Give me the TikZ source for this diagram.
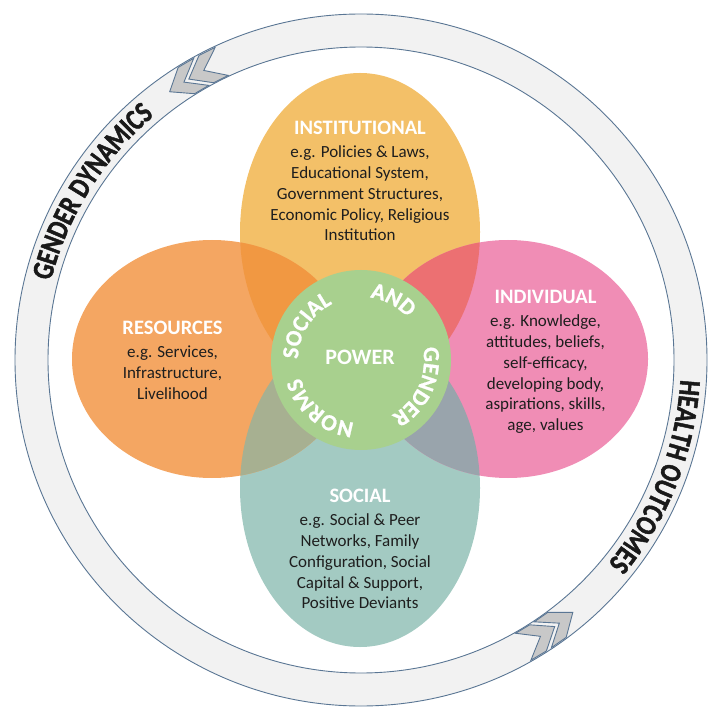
\documentclass[tikz,border=0pt]{standalone}
\usepackage{fontspec}
\setmainfont{Carlito}
\newfontfamily\ringfont{Carlito}[FakeStretch=0.8, FakeBold=1.5]
\newfontfamily\normsfont{Carlito}[LetterSpace=9, FakeBold=1]
\usetikzlibrary{positioning, calc, decorations.text}
\definecolor{instcol}{RGB}{243,192,104}
\definecolor{rescol}{RGB}{244,166,98}
\definecolor{indcol}{RGB}{240,141,181}
\definecolor{soccol}{RGB}{163,202,194}
\definecolor{tlcol}{RGB}{241,152,66}
\definecolor{trcol}{RGB}{236,112,114}
\definecolor{blcol}{RGB}{167,176,145}
\definecolor{brcol}{RGB}{153,164,172}
\definecolor{hubcol}{RGB}{168,208,142}
\definecolor{ringfill}{RGB}{242,242,242}
\definecolor{ringedge}{RGB}{90,118,148}
\definecolor{chevfill}{RGB}{200,200,200}
\definecolor{bodycol}{RGB}{30,30,30}
\newcommand\wordfmt{\normsfont\bfseries\fontsize{23}{27}\selectfont\color{white}}
\newcommand\ringfmt{\ringfont\bfseries\fontsize{30}{36}\selectfont\color{black!90}}

\begin{document}
\begin{tikzpicture}[x=1pt, y=1pt,
    heading/.style={font=\bfseries\fontsize{20.5}{24}\selectfont, text=white, inner sep=0pt},
    body/.style={font=\fontsize{17}{20.7}\selectfont, text=bodycol, align=center, inner sep=0pt},
    ringline/.style={draw=ringedge, line width=0.9pt},
    circtext/.style={decorate, decoration={text along path, text align=center, text={|\wordfmt|#1}}},
    ringtext/.style={decorate, decoration={text along path, text align=center, text={|\ringfmt|#1}}},
]
\useasboundingbox (0,0) rectangle (719,718);
\coordinate (c) at (361,358);

\fill[ringfill, even odd rule] (c) circle[radius=346] (c) circle[radius=313];
\draw[ringline] (c) circle[radius=346] (c) circle[radius=313];
\foreach \a in {115,119,-60.5,-56.5}
  \filldraw[fill=chevfill, ringline, shift={(c)}]
    (\a:345) -- ({\a+3}:345) -- ({\a+6.5}:329.5) -- ({\a+3}:314) -- (\a:314) -- ({\a+3.5}:329.5) -- cycle;

\fill[instcol] (360,486) ellipse[x radius=120, y radius=159];
\fill[soccol] (360,230) ellipse[x radius=120, y radius=159];
\fill[rescol] (212,359) ellipse[x radius=140, y radius=119];
\fill[indcol] (508,359) ellipse[x radius=140, y radius=119];
\begin{scope}
  \clip (360,486) ellipse[x radius=120, y radius=159];
  \fill[tlcol] (212,359) ellipse[x radius=140, y radius=119];
  \fill[trcol] (508,359) ellipse[x radius=140, y radius=119];
\end{scope}
\begin{scope}
  \clip (360,230) ellipse[x radius=120, y radius=159];
  \fill[blcol] (212,359) ellipse[x radius=140, y radius=119];
  \fill[brcol] (508,359) ellipse[x radius=140, y radius=119];
\end{scope}
\fill[hubcol] (c) circle[radius=90];

\node[heading] (inst) at (360,590) {INSTITUTIONAL};
\node[body, below=11pt of inst] (instbody) {e.g. Policies \& Laws,\\Educational System,\\Government Structures,\\Economic Policy, Religious\\Institution};
\node[heading] (res) at (172.5,390) {RESOURCES};
\node[body, below=11pt of res] (resbody) {e.g. Services,\\Infrastructure,\\Livelihood};
\node[heading] (ind) at (545.5,421) {INDIVIDUAL};
\node[body, below=11pt of ind] (indbody) {e.g. Knowledge,\\attitudes, beliefs,\\self-efficacy,\\developing body,\\aspirations, skills,\\age, values};
\node[heading] (soc) at (360,222) {SOCIAL};
\node[body, below=11pt of soc] (socbody) {e.g. Social \& Peer\\Networks, Family\\Configuration, Social\\Capital \& Support,\\Positive Deviants};
\node[font=\bfseries\fontsize{22}{26}\selectfont, text=white] (power) at (360,361) {POWER};

\path[circtext=SOCIAL] ($(c)+(190:63)$) arc[start angle=190, end angle=106, radius=63];
\path[circtext=AND] ($(c)+(90:63)$) arc[start angle=90, end angle=34, radius=63];
\path[circtext=GENDER] ($(c)+(20:63)$) arc[start angle=20, end angle=-70, radius=63];
\path[circtext=NORMS] ($(c)+(-85:63)$) arc[start angle=-85, end angle=-175, radius=63];

\path[ringtext=GENDER DYNAMICS] ($(c)+(190:320)$) arc[start angle=190, end angle=106, radius=320];
\path[ringtext=HEALTH OUTCOMES] ($(c)+(20:320)$) arc[start angle=20, end angle=-63, radius=320];
\end{tikzpicture}
\end{document}
